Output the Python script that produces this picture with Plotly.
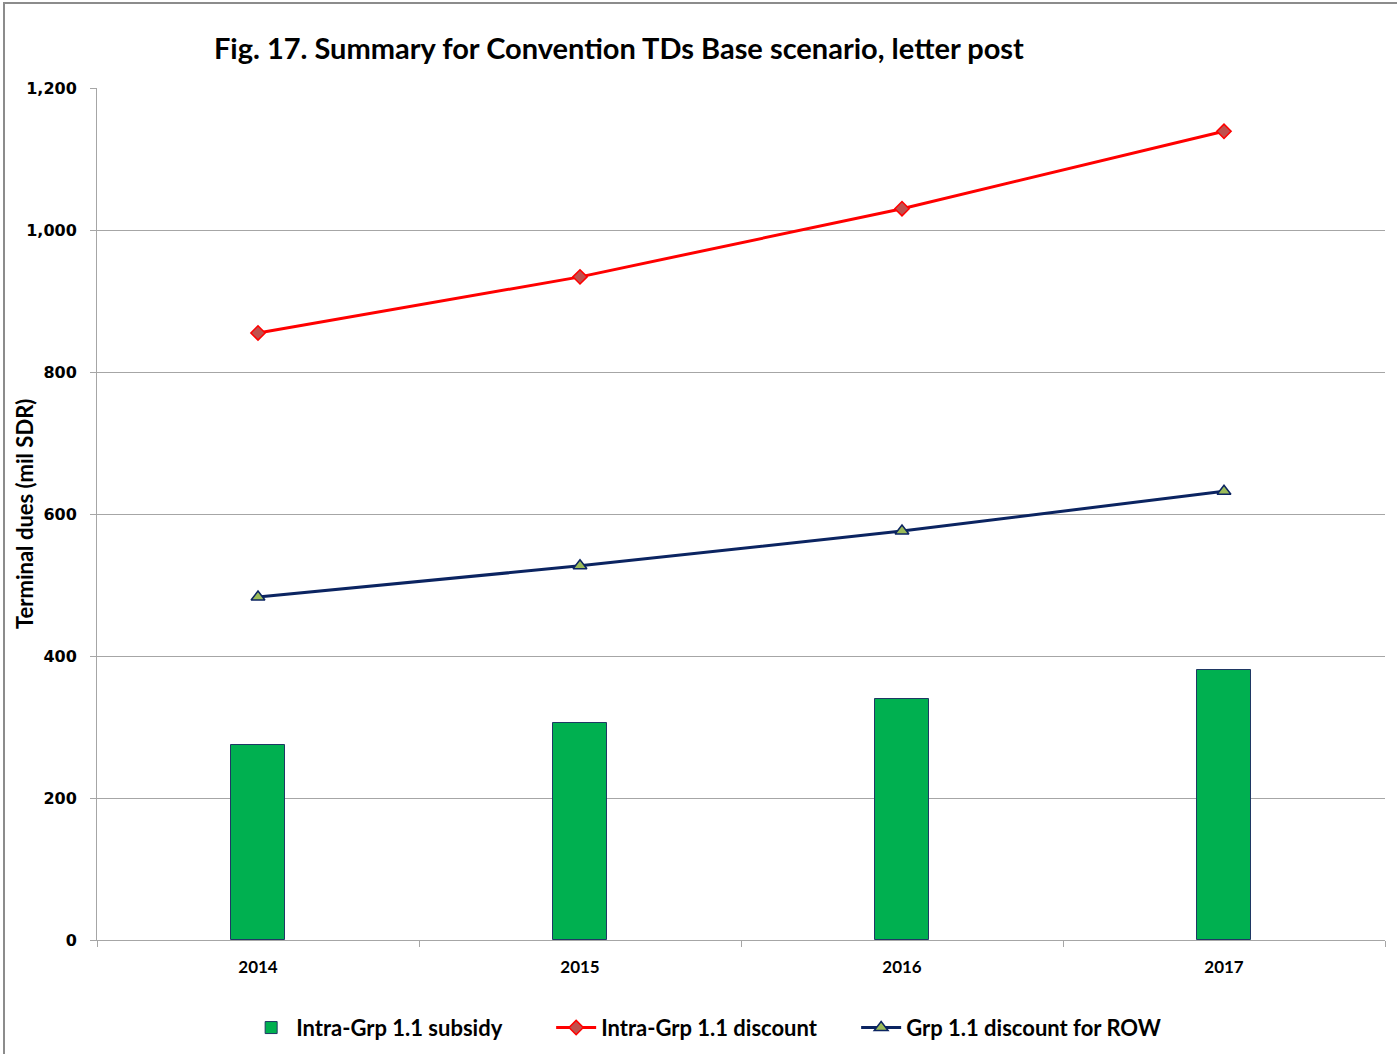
import plotly.graph_objects as go

# Data: letter post terminal dues, mil SDR
years = ["2014", "2015", "2016", "2017"]
subsidy = [275, 305, 340, 380]
intra_discount = [855, 934, 1030, 1139]
row_discount = [483, 527, 576, 632]
y_ticks = [0, 200, 400, 600, 800, 1000, 1200]
y_tick_labels = ["0", "200", "400", "600", "800", "1,000", "1,200"]

fig = go.Figure()

fig.add_trace(go.Bar(
    x=years, y=subsidy, name="Intra-Grp 1.1 subsidy",
    marker=dict(color="#00b050", line=dict(color="#1f3864", width=1)),
    width=0.168,
))
fig.add_trace(go.Scatter(
    x=years, y=intra_discount, name="Intra-Grp 1.1 discount",
    mode="lines+markers",
    line=dict(color="#ff0000", width=3),
    marker=dict(symbol="diamond", size=11, color="#c0504d",
                line=dict(color="#ff0000", width=1.5)),
))
fig.add_trace(go.Scatter(
    x=years, y=row_discount, name="Grp 1.1 discount for ROW",
    mode="lines+markers",
    line=dict(color="#0b2461", width=3),
    marker=dict(symbol="triangle-up", size=12, color="#9bbb59",
                line=dict(color="#0b2461", width=1.5)),
))

fig.update_layout(
    width=1397, height=1054,
    margin=dict(l=97, r=12, t=88, b=114, autoexpand=False),
    paper_bgcolor="white", plot_bgcolor="white",
    font=dict(family="Lato", color="#000000"),
    title=dict(
        text="<b>Fig. 17. Summary for Convention TDs Base scenario, letter post</b>",
        font=dict(family="Lato", size=29, color="#000000"),
        xref="container", x=0.443, xanchor="center",
        yref="container", y=0.9535, yanchor="middle",
    ),
    showlegend=True,
    legend=dict(
        orientation="h", x=0.471, xanchor="center", y=-0.103, yanchor="middle",
        font=dict(family="Lato", size=22, color="#000000", weight="bold"),
        itemwidth=40, entrywidth=250, tracegroupgap=0, bgcolor="rgba(0,0,0,0)",
    ),
    bargap=0,
)

fig.update_xaxes(
    type="category", range=[-0.5, 3.5],
    showline=True, linecolor="#a6a6a6", linewidth=1,
    ticks="outside", tickson="boundaries", ticklen=6, tickcolor="#a6a6a6",
    ticklabelstandoff=12,
    tickfont=dict(family="Lato", size=17, color="#000000", weight="bold"),
    showgrid=False, zeroline=False,
)
fig.update_yaxes(
    range=[0, 1200], tickvals=y_ticks, ticktext=y_tick_labels,
    showline=True, linecolor="#a6a6a6", linewidth=1,
    ticks="outside", ticklen=6, tickcolor="#a6a6a6",
    ticklabelstandoff=10,
    tickfont=dict(family="DejaVu Sans", size=16, color="#000000", weight="bold"),
    showgrid=True, gridcolor="#a6a6a6", gridwidth=1, zeroline=False,
)

# Vertical axis title, placed close to the tick labels
fig.add_annotation(
    text="<b>Terminal dues (mil SDR)</b>", textangle=-90,
    xref="paper", yref="paper", x=-0.0567, y=0.5,
    xanchor="center", yanchor="middle", showarrow=False,
    font=dict(family="Lato", size=22, color="#000000"),
)

# Outer chart border
fig.add_shape(type="rect", xref="paper", yref="paper",
              x0=-0.0722, x1=1.05, y0=-0.2, y1=1.0998,
              line=dict(color="#8c8c8c", width=2), fillcolor="rgba(0,0,0,0)",
              layer="below")

fig.write_html("out.html")
